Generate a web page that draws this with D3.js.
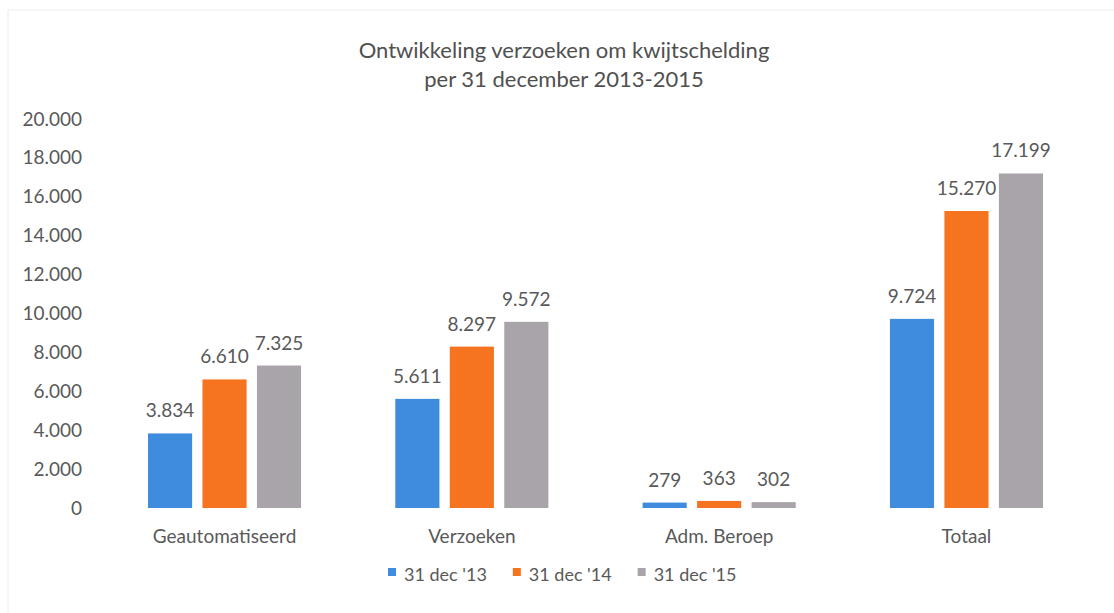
<!DOCTYPE html>
<html>
<head>
<meta charset="utf-8">
<script src="https://cdn.jsdelivr.net/npm/d3@7"></script>
<style>
  html, body { margin: 0; padding: 0; background: #ffffff; }
  svg { display: block; }
  text { font-family: Lato, "Open Sans", sans-serif; fill: #595959; }
</style>
</head>
<body>
<svg id="chart" width="1114" height="613"></svg>
<script>
const titleLines = ["Ontwikkeling verzoeken om kwijtschelding", "per 31 december 2013-2015"];
const categories = ["Geautomatiseerd", "Verzoeken", "Adm. Beroep", "Totaal"];
const seriesNames = ["31 dec '13", "31 dec '14", "31 dec '15"];
const seriesColors = ["#3f8bde", "#f6731f", "#a9a4aa"];
const values2013 = [3834, 5611, 279, 9724];
const values2014 = [6610, 8297, 363, 15270];
const values2015 = [7325, 9572, 302, 17199];
const yTicks = [0, 2000, 4000, 6000, 8000, 10000, 12000, 14000, 16000, 18000, 20000];

const seriesValues = [values2013, values2014, values2015];
const fmt = v => d3.format(",")(v).replace(/,/g, ".");

const svg = d3.select("#chart");

// faint scan frame
svg.append("line").attr("x1", 8).attr("x2", 8).attr("y1", 10).attr("y2", 613)
  .attr("stroke", "#ececec").attr("stroke-width", 1);
svg.append("line").attr("x1", 8).attr("x2", 1114).attr("y1", 10).attr("y2", 10)
  .attr("stroke", "#efefef").attr("stroke-width", 1);

const y = d3.scaleLinear().domain([0, 20000]).range([508, 119]);
const x0 = d3.scaleBand().domain(categories).range([101, 1090])
  .paddingInner(0.381).paddingOuter(0.19);
const x1 = d3.scaleBand().domain(seriesNames).range([0, x0.bandwidth()])
  .paddingInner(0.19).paddingOuter(0);

// title
svg.selectAll("text.title").data(titleLines).enter().append("text")
  .attr("class", "title")
  .attr("x", 564).attr("y", (d, i) => 58 + i * 29)
  .attr("text-anchor", "middle")
  .style("font-size", "22px").style("fill", "#505050")
  .text(d => d);

// y axis
const yAxis = d3.axisLeft(y).tickValues(yTicks).tickFormat(fmt).tickSize(0).tickPadding(0);
const gy = svg.append("g").attr("transform", "translate(82,0)").call(yAxis);
gy.select(".domain").remove();
gy.selectAll("text").style("font-size", "19px").style("fill", "#595959")
  .style("font-family", "Lato, 'Open Sans', sans-serif");

// bars
const groups = svg.selectAll("g.cat").data(categories).enter().append("g")
  .attr("class", "cat")
  .attr("transform", d => `translate(${x0(d)},0)`);

groups.each(function(cat, ci) {
  const g = d3.select(this);
  const rows = seriesNames.map((s, si) => ({ s, si, v: seriesValues[si][ci] }));
  g.selectAll("rect").data(rows).enter().append("rect")
    .attr("x", d => x1(d.s))
    .attr("width", x1.bandwidth())
    .attr("y", d => y(d.v))
    .attr("height", d => y(0) - y(d.v))
    .attr("fill", d => seriesColors[d.si]);
  g.selectAll("text.val").data(rows).enter().append("text")
    .attr("class", "val")
    .attr("x", d => x1(d.s) + x1.bandwidth() / 2)
    .attr("y", d => y(d.v) - 16)
    .attr("text-anchor", "middle")
    .style("font-size", "19px")
    .text(d => fmt(d.v));
});

// x axis labels
const xAxis = d3.axisBottom(x0).tickSize(0).tickPadding(0);
const gx = svg.append("g").attr("transform", "translate(0,529)").call(xAxis);
gx.select(".domain").remove();
gx.selectAll("text").style("font-size", "19px").style("fill", "#595959")
  .style("font-family", "Lato, 'Open Sans', sans-serif")
  .attr("dy", "0.71em");

// legend
const legend = svg.append("g").attr("class", "legend");
let lx = 388;
seriesNames.forEach((name, i) => {
  const item = legend.append("g").attr("transform", `translate(${lx},0)`);
  item.append("rect").attr("x", 0).attr("y", 568).attr("width", 8).attr("height", 8)
    .attr("fill", seriesColors[i]);
  const t = item.append("text").attr("x", 16).attr("y", 581)
    .style("font-size", "18px").text(name);
  lx += 16 + t.node().getComputedTextLength() + 26;
});
</script>
</body>
</html>
